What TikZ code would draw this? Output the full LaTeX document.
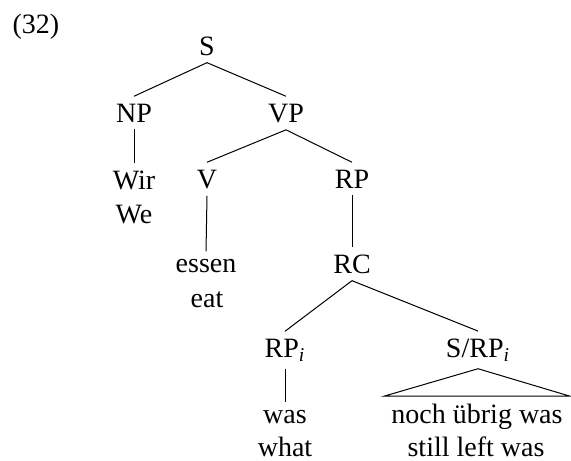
\documentclass[tikz,border=0pt]{standalone}
\usepackage{fontspec}
\setmainfont{Liberation Serif}
\begin{document}
\begin{tikzpicture}[x=0.5pt,y=-0.5pt,
  font=\fontsize{14}{16.8}\selectfont,
  lab/.style={anchor=base,inner sep=3.5pt},
  gloss/.style={anchor=base,inner sep=0pt},
  edge/.style={line width=0.5pt}]
\useasboundingbox (0,0) rectangle (571,460);
\node[gloss] (ex) at (36,34) {(32)};
\node[lab] (s) at (207,55) {S};
\node[lab] (np) at (134,122) {NP};
\node[lab] (vp) at (286,122) {VP};
\node[lab] (wir) at (134,189) {Wir};
\node[gloss] (we) at (134,223) {We};
\node[lab] (v) at (207,188) {V};
\node[lab] (rp) at (352,188) {RP};
\node[lab] (essen) at (206,272) {essen};
\node[gloss] (eat) at (207,307) {eat};
\node[lab] (rc) at (352,273) {RC};
\node[lab] (rpi) at (285,357) {RP\textsubscript{\itshape i}};
\node[lab] (srp) at (478,357) {S/RP\textsubscript{\itshape i}};
\node[lab] (was) at (285,423) {was};
\node[gloss] (what) at (285,456) {what};
\node[lab] (noch) at (477,423) {noch übrig was};
\node[gloss] (still) at (476,456) {still left was};
\draw[edge] (s.south) -- (np.north);
\draw[edge] (s.south) -- (vp.north);
\draw[edge] (np.south) -- (wir.north);
\draw[edge] (vp.south) -- (v.north);
\draw[edge] (vp.south) -- (rp.north);
\draw[edge] (v.south) -- (essen.north);
\draw[edge] (rp.south) -- (rc.north);
\draw[edge] (rc.south) -- (rpi.north);
\draw[edge] (rc.south) -- (srp.north);
\draw[edge] (rpi.south) -- (was.north);
\draw[edge] (noch.north west) -- (srp.south) -- (noch.north east) -- cycle;
\end{tikzpicture}
\end{document}
